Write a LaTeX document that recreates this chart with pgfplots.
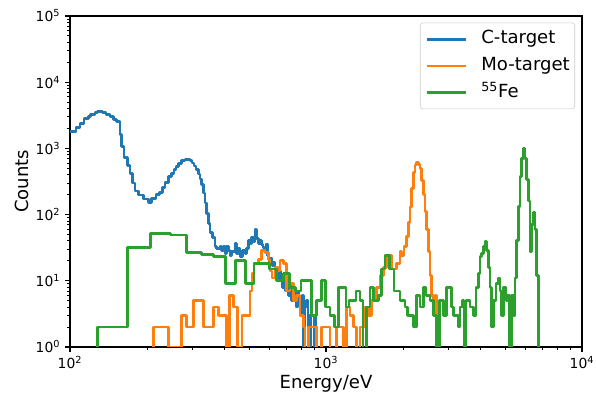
\documentclass[border=0pt]{standalone}
\usepackage{fontspec}
\setmainfont{DejaVu Sans}
\usepackage{pgfplots}
\pgfplotsset{compat=1.18}
\definecolor{tabblue}{HTML}{1F77B4}
\definecolor{taborange}{HTML}{FF7F0E}
\definecolor{tabgreen}{HTML}{2CA02C}
\begin{document}
\begin{tikzpicture}
\begin{axis}[
  scale only axis, width=368.6pt, height=238.3pt,
  xmode=log, ymode=log,
  xmin=100, xmax=10000, ymin=1, ymax=100000,
  xtick={100,1000,10000},
  xticklabels={10\textsuperscript{2},10\textsuperscript{3},10\textsuperscript{4}},
  ytick={1,10,100,1000,10000,100000},
  yticklabels={10\textsuperscript{0},10\textsuperscript{1},10\textsuperscript{2},10\textsuperscript{3},10\textsuperscript{4},10\textsuperscript{5}},
  minor xtick={200,300,400,500,600,700,800,900,2000,3000,4000,5000,6000,7000,8000,9000},
  minor ytick={2,3,4,5,6,7,8,9,20,30,40,50,60,70,80,90,200,300,400,500,600,700,800,900,2000,3000,4000,5000,6000,7000,8000,9000,20000,30000,40000,50000,60000,70000,80000,90000},
  tick align=outside, xtick pos=bottom, ytick pos=left,
  major tick length=3.5pt, minor tick length=2pt,
  every tick/.style={black, line width=0.8pt},
  minor tick style={line width=0.6pt},
  axis line style={line width=0.8pt},
  ticklabel style={font=\fontsize{10}{12}\selectfont},
  xlabel={Energy/eV}, ylabel={Counts},
  xlabel style={font=\fontsize{13}{15.6}\selectfont, at={(axis description cs:0.5,-0.1267)}, anchor=base},
  ylabel style={font=\fontsize{13}{15.6}\selectfont, at={(axis description cs:-0.0819,0.5)}, anchor=base},
  every axis plot/.append style={line width=2pt, const plot, line join=round},
  legend style={at={(1,1)}, anchor=north east, xshift=-5pt, yshift=-4.8pt,
    draw=black!20, rounded corners=2pt, font=\fontsize{13}{15.6}\selectfont,
    inner xsep=3.6pt, inner ysep=4.5pt, row sep=4.7pt,
    nodes={inner xsep=0pt, inner ysep=1pt, text height=9.5pt, text depth=3pt},
    /tikz/every odd column/.append style={column sep=10pt}},
  legend cell align=left,
  legend image code/.code={\draw[#1, sharp plot] (0pt,0pt) -- (28.4pt,0pt);},
]
\addplot[tabblue] coordinates {
(100,1790) (105.5,2060) (109.4,2400) (113.4,2790) (117.9,2990) (120.5,3280) (125.2,3440) (127.8,3600) (134.2,3520) (138.2,3280) (143.3,2990) (147.6,2700) (152.2,2530) (156.8,1640) (159.2,1060) (162.5,727) (167.4,546) (171.5,422) (175.8,300) (179.4,227) (184.8,198) (193.3,172) (202.2,154) (208.5,176) (216.7,203) (223.3,218) (230.2,255) (235.0,309) (242.1,375) (249.6,422) (254.8,474) (259.4,530) (264.9,595) (273.1,650) (281.3,672) (294.3,650) (299.6,600) (305.0,540) (310.6,480) (317.1,411) (322.0,344) (326.9,282) (331.7,211) (336.8,149) (342.0,105) (346.9,74) (352.3,53) (360.9,45) (368.5,33) (374.2,31) (385.4,33) (391.4,29) (397.0,33) (403.2,26) (409.4,33) (415.3,29) (421.7,24) (428.2,28) (441.1,37) (447.9,26) (454.4,31) (461.4,23) (472.8,29) (482.6,26) (490.1,31) (497.2,41) (504.9,37) (512.6,45) (520.0,39) (528.1,59) (536.2,44) (544.0,37) (552.4,41) (559.9,35) (567.5,32) (575.2,29) (583.0,36) (590.9,24) (598.9,19) (607.1,22) (615.3,17) (623.7,19) (632.1,14) (640.7,16) (649.5,10) (658.3,14) (667.2,12) (676.3,8) (685.5,13) (694.8,7) (704.2,11) (713.8,6) (723.5,9) (733.3,5) (743.3,8) (753.4,6) (763.6,4) (774.0,7) (784.5,5) (795.2,3) (806.0,6) (816.9,0.1) (828.0,4) (839.3,5) (850.6,2) (862.2,3) (873.9,0.1) (897.8,3) (910.0,2) (922.4,0.1)
};
\addlegendentry{C-target}
\addplot[taborange] coordinates {
(211.5,0.1) (211.5,2) (242.1,1) (273.1,3) (285.7,2) (303.1,5) (331.7,2) (362.9,4) (379.6,3) (409.4,1) (419.1,6) (434.4,4) (450.4,1) (469.8,3) (504.9,7) (514.0,13) (523.3,18) (544.0,21) (560.9,29) (577.8,27) (595.2,21) (604.4,14) (615.3,11) (632.1,16) (649.5,14) (661.3,20) (681.2,18) (702.3,7) (723.5,9) (745.3,5) (768.4,6) (791.6,3) (815.4,2) (828.0,0.1) (853.0,2) (919.9,0.1) (962.2,2) (1036.8,0.1) (1101.2,2) (1168.5,0.1) (1204.8,4) (1241.2,3) (1278.6,2) (1318.3,0.1) (1358.1,2) (1420.5,4) (1463.4,3) (1508.8,5) (1578.2,8) (1625.8,12) (1674.7,16) (1726.8,22) (1778.8,24) (1811.1,15) (1889.3,18) (1946.2,28) (1976.2,24) (2017.5,33) (2067.1,46) (2097.0,75) (2129.4,130) (2162.2,250) (2193.5,430) (2227.3,560) (2261.6,605) (2294.4,570) (2329.9,500) (2365.8,330) (2400.0,200) (2437.0,110) (2474.6,59) (2510.5,28) (2549.2,12) (2588.5,6) (2626.0,4) (2666.4,6) (2707.5,0.1)
};
\addlegendentry{Mo-target\hspace{3.6pt}}
\addplot[tabgreen] coordinates {
(127.8,0.1) (127.8,2) (167.3,32) (206.8,52) (246.3,49) (285.8,27) (325.3,25) (364.8,23) (404.3,9) (443.8,20) (483.3,9) (522.8,18) (562.3,18) (601.8,15) (641.3,10) (680.8,13) (720.3,8) (759.8,7) (799.3,10) (838.8,10) (878.3,3) (917.8,5) (957.3,10) (996.8,4) (1036.3,3) (1075.8,2) (1117.2,8) (1197.2,4) (1230.0,5) (1310.0,7) (1358.1,5) (1395.2,0.1) (1442.4,4) (1485.9,8) (1530.6,5) (1601.1,6) (1650.8,15) (1700.5,24) (1767.7,15) (1843.9,7) (1946.2,5) (2035.7,4) (2078.3,3) (2193.5,2) (2261.6,6) (2329.9,4) (2400.0,8) (2459.0,6) (2549.2,5) (2626.0,3) (2707.5,0.1) (2771.7,5) (2873.2,3) (2962.4,8) (3098.7,4) (3143.5,3) (3288.2,2) (3339.0,4) (3421.1,5) (3461.2,0.1) (3524.0,5) (3653.3,4) (3763.3,3) (3855.7,8) (3936.4,13) (3997.2,23) (4058.8,26) (4117.5,33) (4181.0,39) (4245.4,29) (4307.0,16) (4373.4,8) (4440.7,2) (4505.0,5) (4615.7,9) (4712.3,11) (4785.1,7) (4858.8,3) (4929.1,8) (5050.2,5) (5110.0,6) (5202.9,0.1) (5297.3,6) (5393.1,3) (5476.2,11) (5560.6,41) (5641.3,131) (5728.3,380) (5816.5,700) (5900.7,1000) (5991.6,700) (6084.0,340) (6172.2,160) (6267.5,28) (6364.0,70) (6456.2,108) (6555.6,60) (6656.7,12) (6753.2,0.1)
};
\addlegendentry{\textsuperscript{55}Fe}
\end{axis}
\pgfresetboundingbox
\path ([shift={(-50.4pt,-35.3pt)}]current axis.south west) rectangle ([shift={(10.1pt,11.5pt)}]current axis.north east);
\end{tikzpicture}
\end{document}
